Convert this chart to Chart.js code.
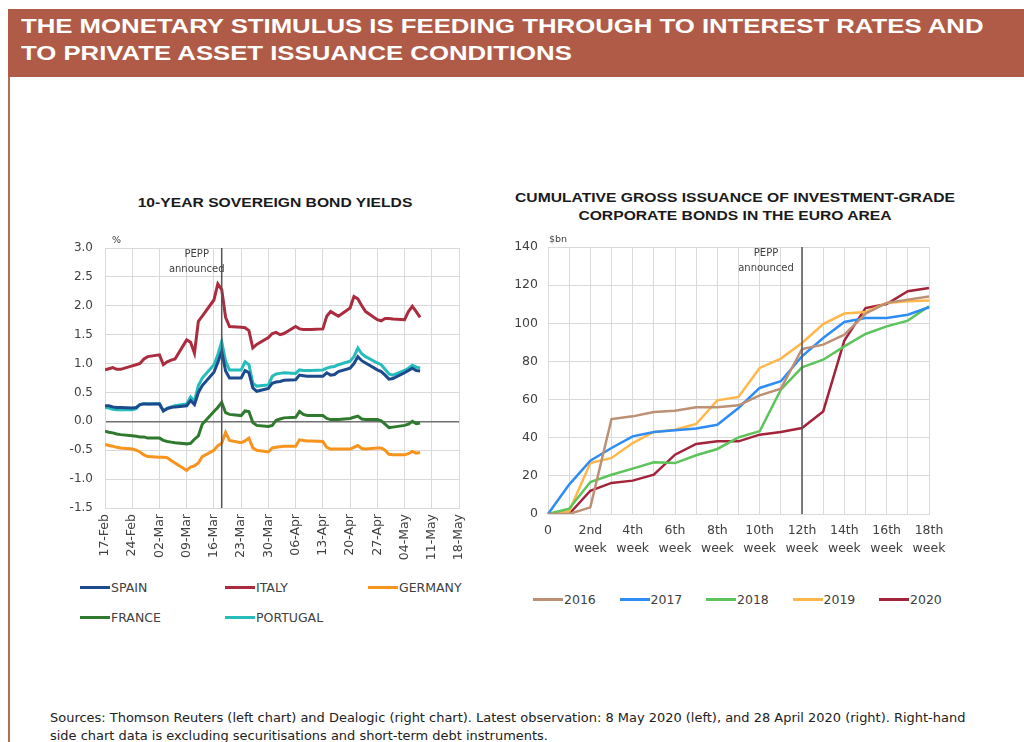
<!DOCTYPE html>
<html lang="en">
<head>
<meta charset="UTF-8">
<title>Monetary stimulus</title>
<script src="https://cdn.jsdelivr.net/npm/chart.js"></script>
<style>
    body { margin: 0; width: 1024px; height: 742px; position: relative; background: #fff; font-family: "DejaVu Sans", sans-serif; overflow: hidden; }
    .band { position: absolute; left: 8px; top: 9px; width: 1016px; height: 68px; background: #b05b47; }
    .band div { position: absolute; left: 13px; color: #fff; font: bold 21px "Liberation Sans", Arial, sans-serif; white-space: nowrap; transform-origin: 0 0; }
    .rule { position: absolute; left: 8px; top: 77px; width: 2px; height: 665px; background: #b86a58; }
    .ctitle { position: absolute; font: bold 13.5px "Liberation Sans", Arial, sans-serif; color: #1a1a1a; text-align: center; line-height: 18px; transform: scaleX(1.16); }
    canvas { position: absolute; }
    .legend { position: absolute; font-size: 12.5px; color: #404040; }
    .legend .item { position: absolute; white-space: nowrap; line-height: 16px; }
    .legend .item span { display: inline-block; width: 30px; height: 3px; vertical-align: middle; margin-right: 1px; position: relative; top: -1px; }
    .note { position: absolute; left: 50px; top: 709px; font-size: 12px; line-height: 18px; color: #222; white-space: nowrap; transform-origin: 0 0; }
</style>
</head>
<body>
<div class="band">
    <div id="t1" style="top:5px">THE MONETARY STIMULUS IS FEEDING THROUGH TO INTEREST RATES AND</div>
    <div id="t2" style="top:32px">TO PRIVATE ASSET ISSUANCE CONDITIONS</div>
</div>
<div class="rule"></div>

<div class="ctitle" style="left:95px; top:194px; width:360px;">10-YEAR SOVEREIGN BOND YIELDS</div>
<div class="ctitle" style="left:495px; top:189px; width:480px;">CUMULATIVE GROSS ISSUANCE OF INVESTMENT-GRADE<br>CORPORATE BONDS IN THE EURO AREA</div>

<canvas id="bonds" width="425" height="345" style="left:55px; top:235px;"></canvas>
<canvas id="issuance" width="470" height="345" style="left:500px; top:235px;"></canvas>

<div class="legend" id="bondsLegend" style="left:80px; top:580px;"></div>
<div class="legend" id="issuanceLegend" style="left:533px; top:592px;"></div>

<div class="note" id="note">Sources: Thomson Reuters (left chart) and Dealogic (right chart). Latest observation: 8 May 2020 (left), and 28 April 2020 (right). Right-hand<br>side chart data is excluding securitisations and short-term debt instruments.</div>

<script>
// left chart: weekly tick labels (Mondays), daily observations 17 Feb - 8 May 2020
const bondWeeks = ['17-Feb', '24-Feb', '02-Mar', '09-Mar', '16-Mar', '23-Mar', '30-Mar',
    '06-Apr', '13-Apr', '20-Apr', '27-Apr', '04-May', '11-May', '18-May'];
const spain = [0.27, 0.27, 0.25, 0.24, 0.24, 0.23, 0.24, 0.29, 0.30, 0.30,
    0.30, 0.18, 0.22, 0.24, 0.25, 0.27, 0.36, 0.29, 0.50, 0.62,
    0.85, 1.02, 1.21, 0.87, 0.75, 0.75, 0.88, 0.84, 0.58, 0.52,
    0.57, 0.66, 0.68, 0.69, 0.71, 0.72, 0.80, 0.79, 0.78, 0.78,
    0.78, 0.84, 0.80, 0.81, 0.86, 0.92, 1.00, 1.12, 1.05, 1.01,
    0.89, 0.86, 0.80, 0.73, 0.74, 0.84, 0.88, 0.92, 0.88, 0.87];
const italy = [0.89, 0.91, 0.93, 0.90, 0.90, 0.96, 0.98, 1.00, 1.08, 1.12,
    1.15, 0.98, 1.03, 1.06, 1.08, 1.41, 1.37, 1.18, 1.73, 1.82,
    2.10, 2.38, 2.28, 1.80, 1.64, 1.63, 1.62, 1.57, 1.27, 1.33,
    1.45, 1.52, 1.54, 1.50, 1.52, 1.64, 1.60, 1.59, 1.59, 1.59,
    1.60, 1.82, 1.90, 1.86, 1.82, 1.96, 2.16, 2.12, 2.00, 1.90,
    1.76, 1.74, 1.78, 1.78, 1.77, 1.76, 1.90, 1.99, 1.90, 1.80];
const germany = [-0.40, -0.42, -0.43, -0.45, -0.46, -0.48, -0.50, -0.53, -0.58, -0.61,
    -0.62, -0.62, -0.63, -0.68, -0.72, -0.85, -0.79, -0.77, -0.72, -0.61,
    -0.50, -0.42, -0.38, -0.19, -0.33, -0.37, -0.34, -0.29, -0.46, -0.50,
    -0.53, -0.46, -0.45, -0.44, -0.43, -0.43, -0.32, -0.33, -0.34, -0.34,
    -0.35, -0.45, -0.48, -0.48, -0.48, -0.48, -0.45, -0.42, -0.47, -0.48,
    -0.46, -0.46, -0.50, -0.57, -0.58, -0.58, -0.56, -0.52, -0.55, -0.54];
const france = [-0.17, -0.19, -0.20, -0.22, -0.23, -0.25, -0.26, -0.27, -0.27, -0.29,
    -0.29, -0.33, -0.35, -0.36, -0.37, -0.39, -0.38, -0.31, -0.25, -0.05,
    0.17, 0.24, 0.33, 0.15, 0.12, 0.10, 0.18, 0.17, -0.02, -0.07,
    -0.09, -0.07, 0.02, 0.04, 0.06, 0.07, 0.17, 0.12, 0.10, 0.10,
    0.10, 0.05, 0.03, 0.03, 0.03, 0.05, 0.07, 0.09, 0.04, 0.03,
    0.03, 0.01, -0.05, -0.11, -0.10, -0.07, -0.05, 0.00, -0.04, -0.03];
const portugal = [0.24, 0.23, 0.21, 0.20, 0.20, 0.20, 0.22, 0.29, 0.31, 0.30,
    0.31, 0.18, 0.23, 0.25, 0.27, 0.30, 0.42, 0.35, 0.62, 0.75,
    0.98, 1.15, 1.38, 1.04, 0.89, 0.89, 1.03, 0.98, 0.66, 0.61,
    0.63, 0.78, 0.82, 0.83, 0.84, 0.83, 0.89, 0.88, 0.88, 0.88,
    0.89, 0.92, 0.94, 0.95, 0.98, 1.04, 1.12, 1.27, 1.17, 1.12,
    1.01, 0.98, 0.90, 0.82, 0.80, 0.88, 0.92, 0.97, 0.94, 0.92];
const peppDay = 30; // 18-Mar, days after 17-Feb

// right chart
const issuanceWeeks = ['0', '1st week', '2nd week', '3rd week', '4th week', '5th week', '6th week',
    '7th week', '8th week', '9th week', '10th week', '11th week', '12th week', '13th week',
    '14th week', '15th week', '16th week', '17th week', '18th week'];
const y2016 = [0, 0, 3.5, 49.8, 51.2, 53.5, 54.2, 56.0, 56.0, 57.0, 62.2, 65.7, 86.5, 88.8, 94.0, 105.0, 110.7, 112.4, 114.1];
const y2017 = [0, 15.4, 28.0, 34.6, 40.7, 43.0, 43.9, 44.8, 46.8, 55.6, 66.1, 69.6, 82.7, 92.3, 100.7, 102.8, 102.8, 104.5, 108.4];
const y2018 = [0, 2.8, 16.8, 20.6, 23.8, 27.1, 26.7, 30.8, 34.1, 40.2, 43.4, 65.2, 76.9, 80.9, 87.9, 94.4, 98.4, 101.4, 108.9];
const y2019 = [0, 1.4, 26.7, 29.4, 37.2, 43.0, 44.2, 47.2, 59.6, 61.4, 76.6, 81.5, 89.7, 99.6, 105.1, 105.9, 110.7, 111.5, 111.9];
const y2020 = [0, 0, 12.2, 16.3, 17.5, 20.6, 31.1, 36.7, 38.1, 38.1, 41.6, 43.0, 45.1, 53.8, 90.9, 108.0, 110.1, 116.8, 118.5];
const peppWeek = 12;

const FONT = '"DejaVu Sans", sans-serif';
const TICK = '#404040';
const GRID = '#d9d9d9';

// trading days as calendar offsets from 17-Feb (weekdays only)
const tradingDays = [];
for (let w = 0; w < 12; w++) for (let d = 0; d < 5; d++) tradingDays.push(w * 7 + d);
const pts = vals => vals.map((v, i) => ({ x: tradingDays[i], y: v }));

const peppPlugin = {
    id: 'pepp',
    afterDatasetsDraw(chart, args, o) {
        const { ctx, chartArea, scales } = chart;
        const x = scales.x.getPixelForValue(o.at);
        ctx.save();
        ctx.strokeStyle = '#555';
        ctx.lineWidth = 1.5;
        ctx.beginPath();
        ctx.moveTo(x, chartArea.top);
        ctx.lineTo(x, chartArea.bottom);
        ctx.stroke();
        ctx.fillStyle = '#404040';
        ctx.font = '10px ' + FONT;
        ctx.textAlign = 'center';
        ctx.textBaseline = 'middle';
        ctx.fillText('PEPP', x + o.dx, chartArea.top + 6);
        ctx.fillText('announced', x + o.dx, chartArea.top + 21);
        ctx.textAlign = 'left';
        ctx.font = '9.5px ' + FONT;
        ctx.fillText(o.unit, chartArea.left + o.unitDx, chartArea.top - 7);
        ctx.restore();
    }
};

// y axes: fixed width, no extra label padding so layout.padding sets the plot top
const fixY = w => s => { s.width = w; s.paddingTop = 0; s.paddingBottom = 0; };

function line(label, data, color, width) {
    return { label, data, borderColor: color, backgroundColor: color, borderWidth: width,
        pointRadius: 0, tension: 0, fill: false };
}

const bondsChart = new Chart(document.getElementById('bonds'), {
    type: 'line',
    data: {
        datasets: [
            line('SPAIN', pts(spain), '#1c4a8c', 3),
            line('ITALY', pts(italy), '#aa2c3e', 3),
            line('GERMANY', pts(germany), '#f7941d', 3),
            line('FRANCE', pts(france), '#2f7a2f', 3),
            line('PORTUGAL', pts(portugal), '#27bcbc', 3)
        ]
    },
    options: {
        responsive: false,
        animation: false,
        layout: { padding: { top: 13, right: 20, left: 0, bottom: 0 } },
        plugins: {
            legend: { display: false },
            tooltip: { enabled: false },
            pepp: { at: peppDay, dx: -25, unit: '%', unitDx: 7 }
        },
        scales: {
            x: {
                type: 'linear', min: 0, max: 91,
                afterFit: s => { s.height = 72; },
                ticks: { stepSize: 7, minRotation: 90, maxRotation: 90, color: TICK,
                    font: { family: FONT, size: 12.5 }, padding: 6,
                    callback: v => bondWeeks[v / 7] },
                grid: { color: GRID, drawTicks: false },
                border: { color: GRID }
            },
            y: {
                min: -1.5, max: 3.0,
                afterFit: fixY(50),
                ticks: { stepSize: 0.5, color: TICK, font: { family: FONT, size: 12 }, padding: 12,
                    callback: v => v.toFixed(1) },
                grid: { drawTicks: false, color: c => c.tick && c.tick.value === 0 ? '#6f6f6f' : GRID,
                    lineWidth: c => c.tick && c.tick.value === 0 ? 1.5 : 1 },
                border: { color: GRID }
            }
        }
    },
    plugins: [peppPlugin]
});

const issuanceChart = new Chart(document.getElementById('issuance'), {
    type: 'line',
    data: {
        labels: issuanceWeeks,
        datasets: [
            line('2016', y2016, '#bc9075', 2.5),
            line('2017', y2017, '#2e8cf5', 2.5),
            line('2018', y2018, '#5cc45a', 2.5),
            line('2019', y2019, '#ffb74a', 2.5),
            line('2020', y2020, '#a3243a', 2.5)
        ]
    },
    options: {
        responsive: false,
        animation: false,
        layout: { padding: { top: 12, right: 41, left: 0, bottom: 0 } },
        plugins: {
            legend: { display: false },
            tooltip: { enabled: false },
            pepp: { at: peppWeek, dx: -36, unit: '$bn', unitDx: 1 }
        },
        scales: {
            x: {
                afterFit: s => { s.height = 66; },
                ticks: { autoSkip: false, maxRotation: 0, color: TICK,
                    font: { family: FONT, size: 12.5, lineHeight: 1.45 }, padding: 8,
                    callback: (v, i) => {
                        if (i % 2) return '';
                        const t = issuanceWeeks[i].split(' ');
                        return t.length > 1 ? t : t[0];
                    } },
                grid: { color: GRID, drawTicks: false },
                border: { color: GRID }
            },
            y: {
                min: 0, max: 140,
                afterFit: fixY(48),
                ticks: { stepSize: 20, color: TICK, font: { family: FONT, size: 12.5 }, padding: 10 },
                grid: { color: GRID, drawTicks: false },
                border: { color: GRID }
            }
        }
    },
    plugins: [peppPlugin]
});

// html legends from the datasets
function buildLegend(chart, el, pos) {
    chart.data.datasets.forEach((ds, i) => {
        const item = document.createElement('div');
        item.className = 'item';
        item.style.left = pos[i][0] + 'px';
        item.style.top = pos[i][1] + 'px';
        item.innerHTML = '<span style="background:' + ds.borderColor + '"></span>' + ds.label;
        el.appendChild(item);
    });
}
buildLegend(bondsChart, document.getElementById('bondsLegend'),
    [[0, 0], [145, 0], [288, 0], [0, 30], [145, 30]]);
buildLegend(issuanceChart, document.getElementById('issuanceLegend'),
    [[0, 0], [86.5, 0], [173, 0], [259.5, 0], [346, 0]]);

// stretch the banner and footnote to the reference widths
function fit(ids, width) {
    const k = width / document.getElementById(ids[0]).offsetWidth;
    ids.forEach(id => { document.getElementById(id).style.transform = 'scaleX(' + k + ')'; });
}
fit(['t1', 't2'], 963);
fit(['note'], 915);
</script>
</body>
</html>
